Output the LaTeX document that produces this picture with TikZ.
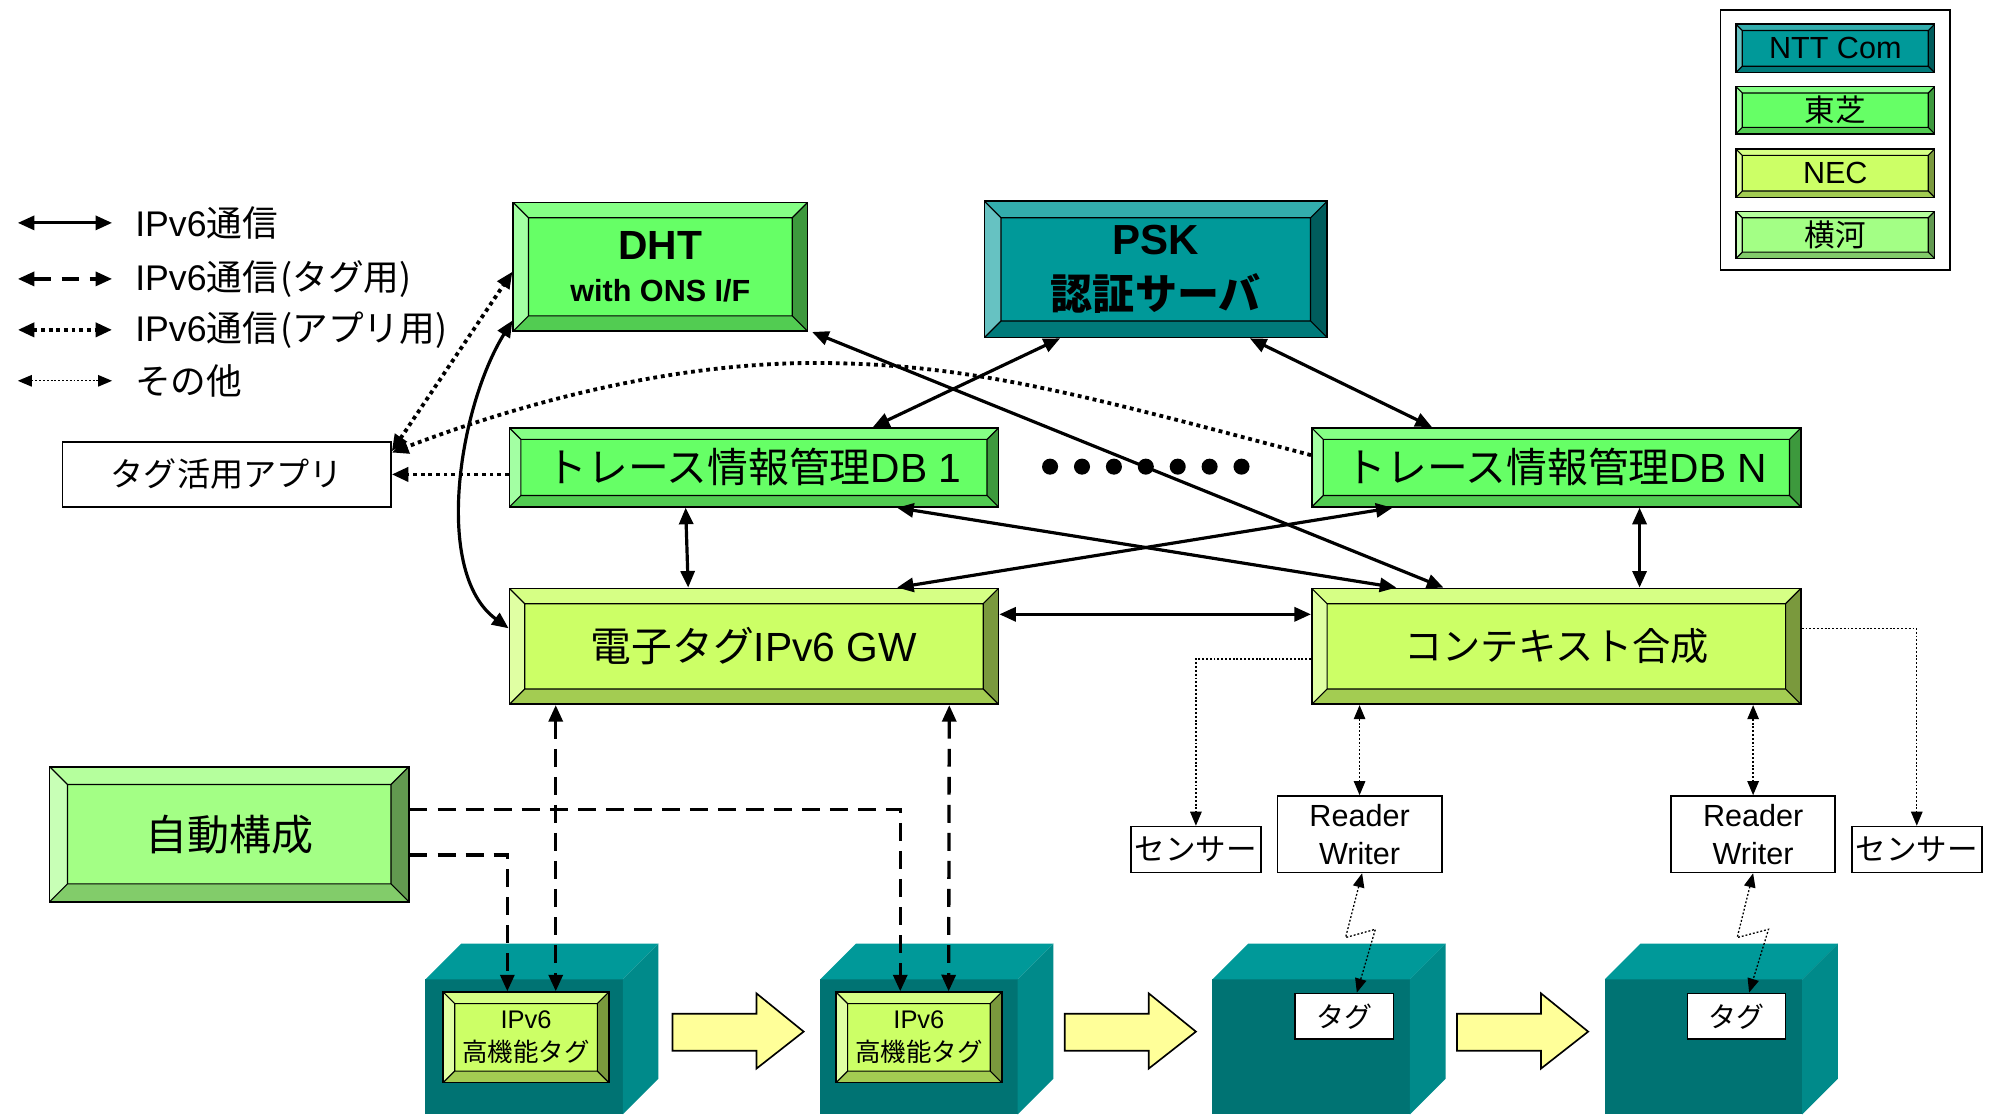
\documentclass[tikz,border=0pt]{standalone}
\usepackage{fontspec}
\setmainfont{Liberation Sans}
\newfontfamily\jp{Noto Sans CJK JP}
\usetikzlibrary{arrows.meta}

% face / top / left / right / bottom shades of each bevelled box colour
\definecolor{grnF}{HTML}{66FF66}\definecolor{grnT}{HTML}{85FF85}
\definecolor{grnL}{HTML}{A3FFA3}\definecolor{grnR}{HTML}{3D993D}
\definecolor{grnB}{HTML}{52CC52}
\definecolor{tlF}{HTML}{009999}\definecolor{tlT}{HTML}{33ADAD}
\definecolor{tlL}{HTML}{66C2C2}\definecolor{tlR}{HTML}{005C5C}
\definecolor{tlB}{HTML}{007A7A}
\definecolor{necF}{HTML}{CCFF66}\definecolor{necT}{HTML}{D6FF85}
\definecolor{necL}{HTML}{E0FFA3}\definecolor{necR}{HTML}{7A993D}
\definecolor{necB}{HTML}{A3CC52}
\definecolor{ykF}{HTML}{A3FF85}\definecolor{ykT}{HTML}{B5FF9D}
\definecolor{ykL}{HTML}{C8FFB6}\definecolor{ykR}{HTML}{629950}
\definecolor{ykB}{HTML}{82CC6A}
% cube faces and block arrows
\definecolor{cubeF}{HTML}{007373}
\definecolor{cubeT}{HTML}{009999}
\definecolor{cubeS}{HTML}{008A8A}
\definecolor{flowY}{HTML}{FFFF99}

\newcommand\fsz[2]{\fontsize{#1}{#2}\selectfont}

\tikzset{
  bvbox/.style 2 args={draw=black, line width=1.3pt, fill=#1F, inner sep=0pt, align=center,
    path picture={
      \coordinate (qA) at (path picture bounding box.north west);
      \coordinate (qB) at (path picture bounding box.north east);
      \coordinate (qC) at (path picture bounding box.south east);
      \coordinate (qD) at (path picture bounding box.south west);
      \coordinate (iA) at ([shift={(#2pt,-#2pt)}]qA);
      \coordinate (iB) at ([shift={(-#2pt,-#2pt)}]qB);
      \coordinate (iC) at ([shift={(-#2pt,#2pt)}]qC);
      \coordinate (iD) at ([shift={(#2pt,#2pt)}]qD);
      \fill[#1T] (qA) -- (qB) -- (iB) -- (iA) -- cycle;
      \fill[#1R] (qB) -- (qC) -- (iC) -- (iB) -- cycle;
      \fill[#1B] (qC) -- (qD) -- (iD) -- (iC) -- cycle;
      \fill[#1L] (qD) -- (qA) -- (iA) -- (iD) -- cycle;
      \draw[line width=0.9pt] (iA) rectangle (iC)
        (qA) -- (iA) (qB) -- (iB) (qC) -- (iC) (qD) -- (iD);
    }},
  plainbox/.style={draw=black, line width=1.3pt, fill=white, inner sep=0pt, align=center},
  ipv/.style={line width=2.5pt, {Triangle[length=13pt,width=11pt]}-{Triangle[length=13pt,width=11pt]}},
  tagl/.style={line width=2.6pt, dash pattern=on 14pt off 8pt,
    {Triangle[length=13pt,width=11pt]}-{Triangle[length=13pt,width=11pt]}},
  tagone/.style={line width=2.6pt, dash pattern=on 14pt off 8pt, -{Triangle[length=13pt,width=11pt]}},
  appl/.style={line width=3pt, dash pattern=on 3pt off 3pt,
    {Triangle[length=13pt,width=11pt]}-{Triangle[length=13pt,width=11pt]}},
  appone/.style={line width=3pt, dash pattern=on 3pt off 3pt, -{Triangle[length=13pt,width=11pt]}},
  oth/.style={line width=1pt, dash pattern=on 1.5pt off 1.5pt,
    {Triangle[length=11pt,width=9pt]}-{Triangle[length=11pt,width=9pt]}},
  othone/.style={line width=1pt, dash pattern=on 1.5pt off 1.5pt, -{Triangle[length=11pt,width=9pt]}},
  keytext/.style={anchor=west, inner sep=0pt, font=\fsz{28}{30}},
}

\begin{document}
\begin{tikzpicture}[x=1pt,y=-1pt]
\useasboundingbox (0,0) rectangle (1568,875);
\fill[white] (0,0) rectangle (1568,875);

% ---- line-style key (top left)
\coordinate (ka1) at (14,175); \coordinate (kb1) at (88,175);
\coordinate (ka2) at (14,219); \coordinate (kb2) at (88,219);
\coordinate (ka3) at (14,259); \coordinate (kb3) at (88,259);
\coordinate (ka4) at (14,299); \coordinate (kb4) at (88,299);
\draw[ipv] (ka1) -- (kb1);
\draw[tagl] (ka2) -- (kb2);
\draw[appl] (ka3) -- (kb3);
\draw[oth] (ka4) -- (kb4);
\node[keytext] (k1) at (106,175) {IPv6{\jp 通信}};
\node[keytext] (k2) at (106,219) {IPv6{\jp 通信\kern2pt(タグ用)}};
\node[keytext] (k3) at (106,259) {IPv6{\jp 通信\kern2pt(アプリ用)}};
\node[keytext] (k4) at (106,299) {{\jp その他}};

% ---- company key (top right)
\node[plainbox, minimum width=180pt, minimum height=204pt] (legbox) at (1441,110) {};
\node[bvbox={tl}{5}, minimum width=156pt, minimum height=38pt, font=\fsz{24}{26}] (lgntt) at (1441,38) {NTT Com};
\node[bvbox={grn}{5}, minimum width=156pt, minimum height=37pt, font=\fsz{24}{26}] (lgtos) at (1441,86.5) {{\jp 東芝}};
\node[bvbox={nec}{5}, minimum width=156pt, minimum height=38pt, font=\fsz{24}{26}] (lgnec) at (1441,136) {NEC};
\node[bvbox={yk}{5}, minimum width=156pt, minimum height=37pt, font=\fsz{24}{26}] (lgyk) at (1441,184.5) {{\jp 横河}};

% ---- servers and databases
\node[bvbox={grn}{12}, minimum width=231pt, minimum height=101pt, font=\bfseries] (dht) at (518.5,209.5)
  {{\fsz{32}{34}DHT}\\[15pt]{\fsz{24}{26}with ONS I/F}};
\node[bvbox={tl}{13}, minimum width=269pt, minimum height=107pt, font=\bfseries\fsz{33}{43}] (psk) at (907.5,211.5)
  {PSK\\{\jp 認証サーバ}};
\node[plainbox, minimum width=258pt, minimum height=51pt, font=\fsz{26}{28}] (app) at (178,372.5) {{\jp タグ活用アプリ}};
\node[bvbox={grn}{9}, minimum width=384pt, minimum height=62pt, font=\fsz{32}{34}] (db1) at (592,367) {{\jp トレース情報管理}DB 1};
\node[bvbox={grn}{9}, minimum width=384pt, minimum height=62pt, font=\fsz{32}{34}] (dbn) at (1222,367) {{\jp トレース情報管理}DB N};
\foreach \i in {0,...,6} \fill (824.5+25.05*\i,366.4) circle (6.3pt);
\node[bvbox={nec}{12}, minimum width=384pt, minimum height=91pt, font=\fsz{32}{34}] (gw) at (592,507.5) {{\jp 電子タグ}IPv6 GW};
\node[bvbox={nec}{12}, minimum width=384pt, minimum height=91pt, font=\fsz{30}{32}] (ctx) at (1222,507.5) {{\jp コンテキスト合成}};
\node[bvbox={yk}{14}, minimum width=282pt, minimum height=106pt, font=\fsz{33}{35}] (auto) at (180,655) {{\jp 自動構成}};

% ---- readers and sensors
\node[plainbox, minimum width=129pt, minimum height=60pt, font=\fsz{24}{30}] (rw1) at (1067.5,655) {Reader\\Writer};
\node[plainbox, minimum width=129pt, minimum height=60pt, font=\fsz{24}{30}] (rw2) at (1376.5,655) {Reader\\Writer};
\node[plainbox, minimum width=102pt, minimum height=36pt, font=\fsz{24}{26}] (sen1) at (939,667) {{\jp センサー}};
\node[plainbox, minimum width=102pt, minimum height=36pt, font=\fsz{24}{26}] (sen2) at (1505,667) {{\jp センサー}};

% ---- tagged goods (cubes) and the flow between them
\foreach \cx in {334,644,952,1260} {
  \fill[cubeF] (\cx,769) rectangle (\cx+155,875);
  \fill[cubeT] (\cx,769) -- (\cx+28,741) -- (\cx+183,741) -- (\cx+155,769) -- cycle;
  \fill[cubeS] (\cx+155,769) -- (\cx+183,741) -- (\cx+183,847) -- (\cx+155,875) -- cycle;
}
\foreach \ax in {528,836,1144}
  \draw[fill=flowY, line width=1.3pt, line join=miter]
    (\ax,796) -- (\ax+66,796) -- (\ax+66,780) -- (\ax+103,810) -- (\ax+66,839)
    -- (\ax+66,825) -- (\ax,825) -- cycle;
\node[bvbox={nec}{9}, minimum width=130pt, minimum height=71pt, font=\fsz{20}{26}] (tag1) at (413,814.5) {IPv6\\{\jp 高機能タグ}};
\node[bvbox={nec}{9}, minimum width=130pt, minimum height=71pt, font=\fsz{20}{26}] (tag2) at (721.5,814.5) {IPv6\\{\jp 高機能タグ}};
\node[plainbox, minimum width=77pt, minimum height=36pt, font=\fsz{22}{24}] (tg3) at (1055.5,798) {{\jp タグ}};
\node[plainbox, minimum width=77pt, minimum height=36pt, font=\fsz{22}{24}] (tg4) at (1363.5,798) {{\jp タグ}};

% ---- IPv6 links
\draw[ipv] ([xshift=286pt]db1.north west) -- ([xshift=60pt]psk.south west);
\draw[ipv] ([xshift=209pt]psk.south west) -- ([xshift=95pt]dbn.north west);
\draw[ipv] ([xshift=3pt]dht.south east) -- ([xshift=104pt]ctx.north west);
\draw[ipv] ([xshift=305pt]db1.south west) -- ([xshift=67pt]ctx.north west);
\draw[ipv] ([xshift=64pt]dbn.south west) -- ([xshift=305pt]gw.north west);
\draw[ipv] ([xshift=139pt]db1.south west) -- ([xshift=141pt]gw.north west);
\draw[ipv] ([xshift=258pt]dbn.south west) -- ([xshift=258pt]ctx.north west);
\draw[ipv] ([yshift=-21pt]gw.north east) -- ([yshift=-21pt]ctx.north west);
\draw[ipv] ([yshift=9pt]dht.south west) .. controls (360,320) and (340,450) .. ([yshift=-32pt]gw.north west);

% ---- application links
\draw[appl] ([yshift=-8pt]app.north east) -- ([yshift=-55pt]dht.north west);
\draw[appone] (db1.west |- app.east) -- (app.east);
\draw[appone] ([yshift=-22pt]dbn.north west) .. controls (850,310) and (760,285) .. (640,285)
  .. controls (520,285) and (400,320) .. ([yshift=-9pt]app.north east);

% ---- tag links
\draw[tagl] ([xshift=37pt]gw.south west) -- ([xshift=89pt]tag1.north west);
\draw[tagl] ([xshift=346pt]gw.south west) -- ([xshift=89pt]tag2.north west);
\draw[tagone] ([yshift=-34pt]auto.north east) -| ([xshift=51pt]tag2.north west);
\draw[tagone] ([yshift=-70pt]auto.north east) -| ([xshift=51pt]tag1.north west);

% ---- other links
\draw[othone] ([yshift=-56pt]ctx.north west) -| (sen1.north);
\draw[othone] ([yshift=-32pt]ctx.north east) -| (sen2.north);
\draw[oth] (rw1.north |- ctx.south) -- (rw1.north);
\draw[oth] (rw2.north |- ctx.south) -- (rw2.north);
\draw[oth] ([xshift=2pt]rw1.south) -- ++(-13,50.5) -- ++(23.4,-6.5) -- ([xshift=49pt]tg3.north west);
\draw[oth] (rw2.south) -- ++(-12.5,50.5) -- ++(24.6,-6.5) -- ([xshift=49pt]tg4.north west);
\end{tikzpicture}
\end{document}
